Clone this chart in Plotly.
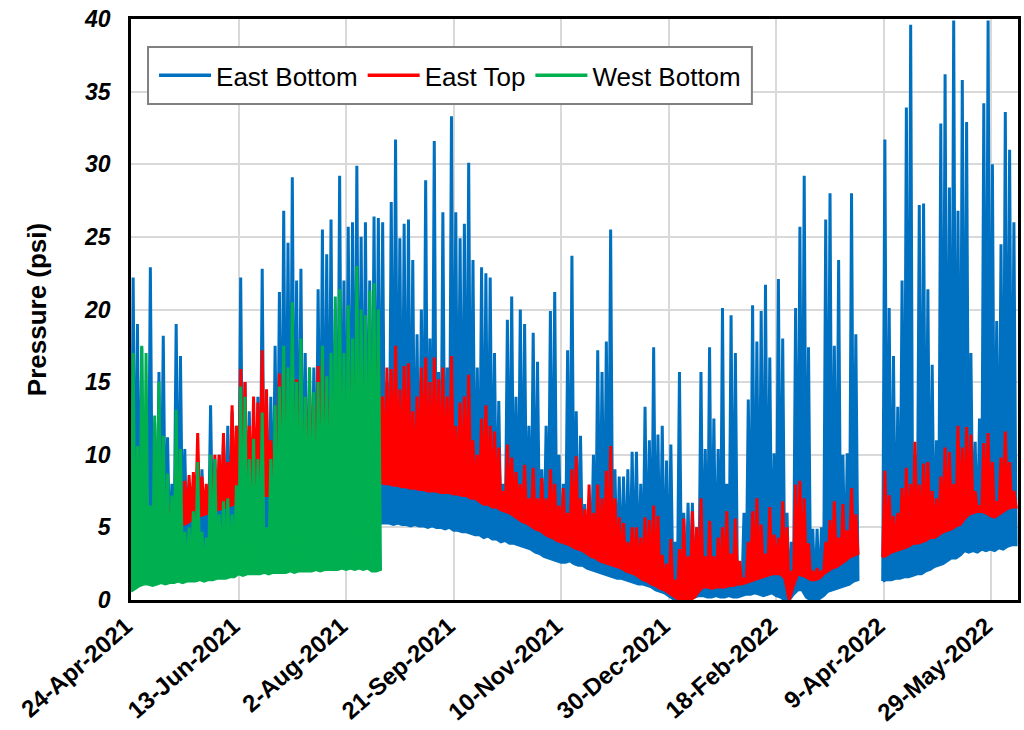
import pandas as pd
import plotly.graph_objects as go

# ---------------- data ----------------
START = "2021-04-24"          # first day of the record
STEP_DAYS = 2.0               # each low/high pair covers two days

# East Bottom, first record segment (starts day 0)
EB1_START = 0.0
EB1_LOW = [
    1.0, 2.6, 3.0, 3.2, 3.0, 3.2, 3.3, 3.1, 3.3, 3.2,
    3.4, 3.2, 3.3, 3.5, 3.4, 3.6, 3.5, 3.6, 3.4, 3.7,
    3.6, 3.8, 3.7, 3.9, 3.8, 4.0, 4.1, 4.0, 4.2, 4.1,
    4.3, 4.2, 4.4, 4.3, 4.5, 4.4, 4.6, 4.5, 4.7, 4.6,
    4.8, 4.7, 4.9, 4.8, 5.0, 4.9, 5.1, 5.0, 5.1, 5.2,
    5.1, 5.2, 5.3, 5.2, 5.3, 5.2, 5.3, 5.4, 5.3, 5.3,
    5.3, 5.2, 5.3, 5.2, 5.2, 5.1, 5.2, 5.1, 5.1, 5.0,
    5.1, 5.0, 5.0, 4.9, 5.0, 4.8, 4.8, 4.7, 4.7, 4.6,
    4.5, 4.5, 4.3, 4.4, 4.2, 4.2, 4.0, 4.1, 3.9, 3.9,
    3.8, 3.7, 3.6, 3.5, 3.3, 3.2, 3.0, 2.9, 2.8, 2.7,
    2.6, 2.6, 2.7, 2.5, 2.4, 2.4, 2.2, 2.1, 2.0, 1.9,
    1.8, 1.7, 1.6, 1.5, 1.5, 1.4, 1.3, 1.2, 1.1, 1.1,
    1.0, 0.9, 0.7, 0.6, 0.5, 0.3, 0.1, 0.0, 0.0, 0.0,
    0.1, 0.2, 0.3, 0.3, 0.2, 0.2, 0.3, 0.2, 0.2, 0.3,
    0.2, 0.2, 0.3, 0.4, 0.4, 0.5, 0.4, 0.3, 0.4, 0.5,
    0.3, 0.2, 0.0, 0.0, 0.4, 0.7, 0.7, 0.2, 0.0, 0.0,
    0.1, 0.3, 0.6, 0.7, 0.8, 0.9, 1.0, 1.1, 1.3, 1.4,
]
EB1_HIGH = [
    22.2, 19, 17.4, 8, 22.9, 12.2, 15.7, 18.2, 11.2, 8,
    19, 16.8, 10.4, 7, 6, 7, 9, 7, 13.4, 8,
    10, 11, 12, 13, 12, 22.2, 15, 13, 12, 14,
    22.8, 12, 14, 17.5, 21.2, 26.8, 24.6, 29.1, 22, 22.8,
    17, 16, 16, 21.4, 25.5, 23.8, 26.2, 20, 29.2, 22,
    25.7, 26, 29.9, 25, 26, 22, 26.4, 26.3, 26, 15,
    27.4, 31.7, 24.9, 25.9, 26.2, 23.4, 18.3, 20, 28.9, 18,
    31.6, 15.7, 26.7, 16, 33.3, 26.7, 24.9, 25.9, 30.1, 23.4,
    16, 22.9, 22.5, 22.2, 17, 13.7, 8, 19.3, 20.9, 14,
    20, 19, 12, 18.4, 16.4, 9, 12, 19.9, 21.2, 10,
    8, 17.2, 23.7, 13, 11.3, 6.6, 7, 10, 17.2, 15.7,
    17.8, 25.5, 9, 8.5, 8.5, 9, 10.2, 10.2, 8, 13.3,
    11, 17.4, 11.4, 12, 9.6, 10.7, 4, 15.7, 6, 6.7,
    6.7, 5, 15.7, 10.4, 17.4, 12.5, 10.4, 20.1, 8, 19.6,
    17, 1.5, 6, 13.8, 20.3, 17.8, 19.9, 21.7, 16.7, 10.1,
    22.1, 18, 6, 4, 20.1, 25.7, 29.2, 17.4, 4.9, 4.9,
    5, 26.2, 28, 17.5, 23.4, 10, 10.1, 28, 18.3,
]

# East Bottom, second record segment (after the April 2022 gap)
EB2_START = 349.5
EB2_LOW = [
    1.3, 1.4, 1.4, 1.5, 1.5, 1.6, 1.6, 1.7, 1.8, 1.8,
    2.0, 2.1, 2.3, 2.4, 2.5, 2.7, 2.9, 2.9, 3.1, 3.4,
    3.3, 3.4, 3.3, 3.5, 3.4, 3.5, 3.4, 3.6, 3.5, 3.7,
    3.8, 3.8,
]
EB2_HIGH = [
    31.7, 20.1, 16.8, 13.3, 22, 33.9, 39.6, 10, 27.2, 27.3,
    21.4, 16.2, 11, 32.8, 36.2, 28.4, 39.9, 26.8, 35.8, 32.9,
    17, 10.9, 12.5, 34.2, 39.9, 30, 19.2, 24.5, 33.6, 31,
    26,
]

# East Top
ET1_START = 0.0
ET1_LOW = [
    3.0, 3.8, 4.0, 4.2, 4.3, 4.5, 4.6, 4.8, 4.9, 5.0,
    5.0, 5.1, 5.2, 5.3, 5.5, 5.6, 5.8, 5.9, 6.0, 6.1,
    6.2, 6.3, 6.4, 6.5, 6.6, 6.7, 6.8, 6.9, 7.0, 7.0,
    7.1, 7.2, 7.2, 7.3, 7.4, 7.4, 7.5, 7.5, 7.6, 7.6,
    7.7, 7.7, 7.8, 7.8, 7.9, 7.9, 8.0, 8.0, 8.0, 8.1,
    8.1, 8.1, 8.2, 8.2, 8.2, 8.2, 8.2, 8.2, 8.1, 8.0,
    8.0, 7.9, 7.9, 7.8, 7.8, 7.7, 7.7, 7.6, 7.6, 7.5,
    7.5, 7.5, 7.4, 7.4, 7.4, 7.3, 7.3, 7.2, 7.2, 7.0,
    7.0, 6.8, 6.6, 6.6, 6.4, 6.4, 6.2, 6.1, 6.0, 5.8,
    5.6, 5.4, 5.3, 5.1, 4.9, 4.8, 4.6, 4.4, 4.3, 4.1,
    4.0, 3.9, 3.8, 3.6, 3.5, 3.4, 3.2, 3.0, 2.9, 2.7,
    2.6, 2.5, 2.4, 2.3, 2.2, 2.0, 1.9, 1.8, 1.6, 1.4,
    1.3, 1.1, 1.0, 0.8, 0.7, 0.5, 0.3, 0.1, 0.0, 0.0,
    0.0, 0.2, 0.6, 0.9, 0.9, 0.8, 0.9, 0.9, 0.9, 1.0,
    1.0, 1.1, 1.1, 1.2, 1.3, 1.4, 1.5, 1.6, 1.7, 1.8,
    1.8, 1.8, 1.5, 0.0, 1.0, 1.8, 1.7, 1.6, 1.4, 1.4,
    1.5, 1.8, 2.0, 2.2, 2.3, 2.5, 2.7, 2.95, 3.1, 3.2,
]
ET1_HIGH = [
    4, 5, 6.5, 6, 5.5, 6, 6, 6.5, 6.8, 6,
    6, 7, 8.2, 8.6, 8.8, 11.5, 8.5, 8, 8.5, 10,
    10, 11.5, 9.5, 13.4, 12, 15.9, 15, 12, 14, 13.6,
    17.2, 14.5, 11, 11.5, 15.6, 16.3, 13, 12.5, 15.2, 12.7,
    12.5, 14.5, 13.4, 16.1, 17.2, 14, 13.5, 15, 16, 14,
    15, 16.5, 17, 15, 16, 15.5, 17, 17.2, 14, 16,
    15.9, 17.5, 14.5, 16.1, 16.3, 13, 14, 16, 16.7, 15,
    16.7, 15.2, 16, 14, 16.8, 12, 13.6, 14, 15.5, 11,
    10, 12.5, 13.4, 12, 11.6, 10.5, 7.5, 10.7, 9.8, 8.8,
    8, 9.3, 7, 9.1, 7, 8.4, 7, 9, 8, 6.5,
    7.7, 6, 9, 9.9, 7, 6.25, 7.95, 6, 7.95, 7,
    8.9, 10.6, 7, 5.7, 5.3, 4.0, 5.0, 5.0, 4.3, 5.7,
    5.5, 6.5, 5.8, 3.1, 2.5, 4.2, 1.4, 3.5, 5.6, 3,
    6.1, 5, 7, 3, 5.45, 3, 4.3, 5, 6.1, 3.2,
    5.6, 2.7, 1.4, 4, 6.1, 7, 5.2, 3.2, 6.4, 4.5,
    4.3, 6.8, 5.0, 2.0, 7.95, 8.2, 7, 3.9, 2.0, 2.2,
    2.0, 4, 5.5, 6.8, 4.3, 6.6, 4.8, 7.7, 5.9,
]
ET2_START = 349.5
ET2_LOW = [
    2.95, 3.1, 3.3, 3.4, 3.5, 3.6, 3.7, 3.9, 3.9, 4.0,
    4.1, 4.3, 4.3, 4.5, 4.7, 4.8, 4.9, 5.1, 5.2, 5.6,
    5.9, 6.0, 6.1, 6.1, 6.0, 5.8, 5.7, 5.9, 6.1, 6.3,
    6.4, 6.4,
]
ET2_HIGH = [
    8.9, 7.2, 5.8, 6, 7.7, 9.1, 8, 10.9, 7.95, 9.4,
    9.5, 7.5, 7, 8.5, 10.5, 10.2, 8, 12, 10.5, 11.9,
    11.4, 7.5, 6.5, 10.8, 11.5, 9.5, 6.8, 9.8, 11.6, 9.5,
    7.5,
]

# West Bottom (record stops mid-August 2021)
WB_START = 0.0
WB_LOW = [
    0.6, 0.8, 1.0, 1.1, 1.1, 1.0, 1.1, 1.2, 1.1, 1.2,
    1.2, 1.3, 1.2, 1.3, 1.3, 1.3, 1.4, 1.3, 1.4, 1.4,
    1.5, 1.5, 1.5, 1.6, 1.6, 1.8, 1.7, 1.8, 1.8, 1.8,
    1.8, 1.9, 1.8, 1.9, 1.9, 1.9, 1.9, 2.0, 1.9, 2.0,
    2.0, 2.0, 2.0, 2.1, 2.0, 2.1, 2.1, 2.1, 2.1, 2.2,
    2.1, 2.2, 2.1, 2.2, 2.1, 2.2, 2.0, 2.0, 2.1,
]
WB_HIGH = [
    17, 10.6, 17.5, 17, 6.5, 12.7, 15, 11.3, 8.7, 7.2,
    13.1, 10.4, 4.7, 5, 6.1, 9.5, 4.7, 4.3, 10, 9.7,
    5.9, 6.8, 7, 5.9, 7.9, 14.7, 14, 9.7, 11.1, 9.7,
    12.9, 5, 9.7, 13.4, 14.7, 17.5, 16, 20.5, 15, 18,
    14, 16, 14.3, 15, 17.5, 15.4, 17, 20.9, 21.4, 17,
    20.3, 18, 23, 20, 19.6, 21.3, 21.8, 20,
]

SERIES = ["East Bottom", "East Top", "West Bottom"]
COLORS = ["#0070C0", "#FF0000", "#00B050"]

TICK_DATES = ["2021-04-24", "2021-06-13", "2021-08-02", "2021-09-21", "2021-11-10",
              "2021-12-30", "2022-02-18", "2022-04-09", "2022-05-29"]
TICK_TEXT = ["24-Apr-2021", "13-Jun-2021", "2-Aug-2021", "21-Sep-2021", "10-Nov-2021",
             "30-Dec-2021", "18-Feb-2022", "9-Apr-2022", "29-May-2022"]
X_END_DAYS = 412.4
Y_MAX = 40
Y_STEP = 5

# ---------------- build ----------------
t0 = pd.Timestamp(START)


def day(d):
    return t0 + pd.Timedelta(days=float(d))


def band(start_day, lows, highs):
    """Oscillating record: low, high, low, ... closed back along the lows."""
    n = len(highs)
    zx, zy = [], []
    for i in range(n):
        zx.append(day(start_day + STEP_DAYS * i))
        zy.append(lows[i])
        zx.append(day(start_day + STEP_DAYS * i + STEP_DAYS / 2))
        zy.append(highs[i])
    zx.append(day(start_day + STEP_DAYS * n))
    zy.append(lows[n])
    for i in range(n, -1, -1):
        zx.append(day(start_day + STEP_DAYS * i))
        zy.append(lows[i])
    return zx, zy


segments = [
    (0, EB1_START, EB1_LOW, EB1_HIGH),
    (0, EB2_START, EB2_LOW, EB2_HIGH),
    (1, ET1_START, ET1_LOW, ET1_HIGH),
    (1, ET2_START, ET2_LOW, ET2_HIGH),
    (2, WB_START, WB_LOW, WB_HIGH),
]

FONT = "Arial, Liberation Sans, sans-serif"

fig = go.Figure()
for k, s0, lo, hi in segments:
    x, y = band(s0, lo, hi)
    fig.add_trace(go.Scatter(
        x=x, y=y, mode="lines", fill="toself", fillcolor=COLORS[k],
        line=dict(color=COLORS[k], width=3.0), showlegend=False,
        hoverinfo="skip", name=SERIES[k]))

for k, name in enumerate(SERIES):
    fig.add_trace(go.Scatter(
        x=[None], y=[None], mode="lines", name=name,
        line=dict(color=COLORS[k], width=3.5)))

# legend frame (drawn as a shape so its size matches the original box)
fig.add_shape(type="rect", xref="paper", yref="paper",
              x0=0.0192, x1=0.700, y0=0.8537, y1=0.9518,
              fillcolor="white", line=dict(color="#808080", width=2),
              layer="above")

fig.update_layout(
    width=1024, height=730,
    margin=dict(l=131, r=6, t=19, b=130, autoexpand=False),
    paper_bgcolor="white", plot_bgcolor="white",
    font=dict(family=FONT, color="black"),
    showlegend=True,
    hovermode=False,
    legend=dict(
        orientation="h", x=0.026, y=0.9028, xanchor="left", yanchor="middle",
        bgcolor="rgba(0,0,0,0)", borderwidth=0,
        font=dict(family=FONT, size=26, color="black"),
        itemwidth=52, tracegroupgap=0,
    ),
)
fig.update_xaxes(
    type="date", automargin=False,
    range=[day(0), day(X_END_DAYS)],
    tickmode="array", tickvals=TICK_DATES, ticktext=TICK_TEXT,
    tickangle=-41,
    tickfont=dict(family=FONT, size=24, color="black", weight="bold"),
    ticks="", ticklabelstandoff=0, ticklabelshift=-5,
    showgrid=True, gridcolor="#D9D9D9", gridwidth=1.5,
    showline=True, linecolor="black", linewidth=2.5, mirror=True,
    zeroline=False,
)
fig.update_yaxes(
    automargin=False,
    range=[0, Y_MAX], dtick=Y_STEP, tick0=0,
    tickfont=dict(family=FONT, size=23, color="black", weight="bold", style="italic"),
    ticks="", ticklabelstandoff=13,
    showgrid=True, gridcolor="#D9D9D9", gridwidth=1.5,
    showline=True, linecolor="black", linewidth=2.5, mirror=True,
    zeroline=False,
    title=dict(text="Pressure (psi)", standoff=30,
               font=dict(family=FONT, size=26, color="black", weight="bold")),
)

fig.write_html("out.html",
               config={"displayModeBar": False},
               post_script="document.body.style.margin='0';document.body.style.overflow='hidden';")
